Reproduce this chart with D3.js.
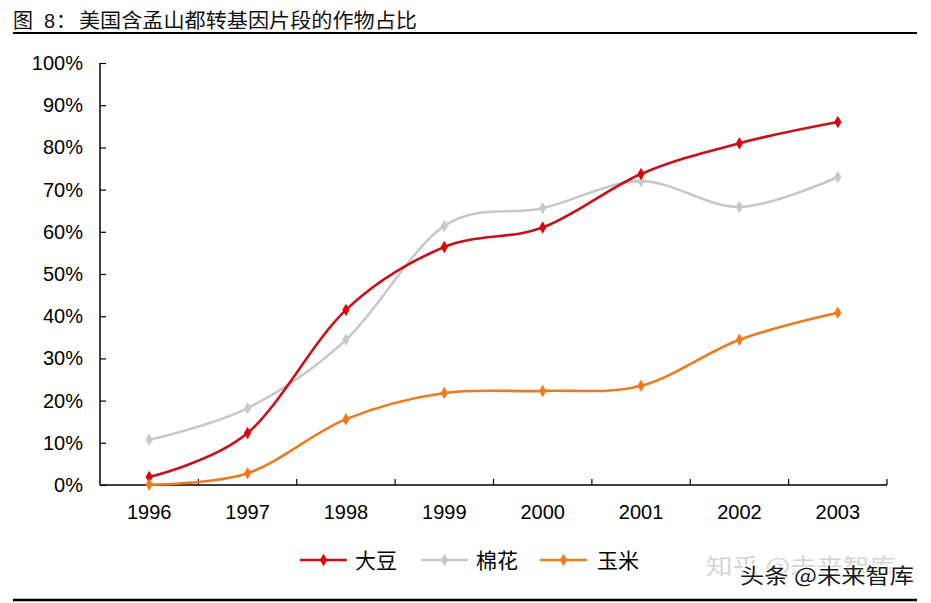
<!DOCTYPE html>
<html><head><meta charset="utf-8">
<script src="https://cdn.jsdelivr.net/npm/d3@7"></script>
<style>body{margin:0;background:#fff}svg{display:block}</style>
</head><body>
<svg id="c" width="931" height="603"></svg>
<script>
const years = ["1996","1997","1998","1999","2000","2001","2002","2003"];
const soybean = [1.9, 12.3, 41.5, 56.4, 61.0, 73.7, 81.0, 86.0];
const cotton  = [10.7, 18.2, 34.4, 61.4, 65.6, 72.0, 65.9, 73.0];
const corn    = [0.1, 2.8, 15.6, 21.8, 22.3, 23.5, 34.4, 40.8];
const seriesNames = ["大豆", "棉花", "玉米"];
const yTicks = [0,10,20,30,40,50,60,70,80,90,100];
const titlePrefix = ["图", "8", "："];
const titleMain = "美国含孟山都转基因片段的作物占比";

const colors = ["#C8101A", "#C8C8C8", "#EF7A1E"];
const markerColors = ["#E00000", "#C8C8C8", "#F27A1A"];
const svg = d3.select("#c");
const cjk = "'Noto Sans CJK SC', sans-serif";
const lat = "'Liberation Sans', Arial, sans-serif";

// title
const tt = svg.append("text").attr("y", 28).attr("font-size", 20).attr("fill", "#111");
tt.append("tspan").attr("x", 13).attr("font-family", cjk).text(titlePrefix[0]);
tt.append("tspan").attr("x", 44).attr("font-family", lat).text(titlePrefix[1]);
tt.append("tspan").attr("x", 56).attr("font-family", cjk).text(titlePrefix[2]);
svg.append("text").attr("x", 79).attr("y", 28).attr("font-size", 20).attr("fill", "#111").attr("font-family", cjk)
  .attr("textLength", 338).attr("lengthAdjust", "spacingAndGlyphs").text(titleMain);
svg.append("line").attr("x1", 13).attr("x2", 917).attr("y1", 33).attr("y2", 33).attr("stroke", "#000").attr("stroke-width", 2);
svg.append("line").attr("x1", 13).attr("x2", 917).attr("y1", 600).attr("y2", 600).attr("stroke", "#000").attr("stroke-width", 2.5);

const x = d3.scaleBand().domain(years).range([100, 887]);
const y = d3.scaleLinear().domain([0, 100]).range([485, 63]);

// y axis
const yAxis = svg.append("g").attr("transform", "translate(100,0)")
  .call(d3.axisRight(y).tickValues(yTicks).tickSize(6).tickFormat(""));
yAxis.select(".domain").attr("d", `M0,${y(100)}V${y(0)}`).attr("stroke", "#000").attr("stroke-width", 1.5);
yAxis.selectAll(".tick line").attr("stroke", "#000").attr("stroke-width", 1.2);
svg.append("g").selectAll("text").data(yTicks).join("text")
  .attr("x", 83).attr("y", d => y(d) + 7).attr("text-anchor", "end")
  .attr("font-family", lat).attr("font-size", 20).attr("fill", "#000")
  .text(d => d + "%");

// x axis
const xAxisG = svg.append("g");
xAxisG.append("line").attr("x1", 100).attr("x2", 887).attr("y1", y(0)).attr("y2", y(0)).attr("stroke", "#000").attr("stroke-width", 1.5);
xAxisG.selectAll("line.t").data(years).join("line").attr("class", "t")
  .attr("x1", (d, i) => x(years[0]) + (i + 1) * x.step()).attr("x2", (d, i) => x(years[0]) + (i + 1) * x.step())
  .attr("y1", y(0)).attr("y2", y(0) - 6).attr("stroke", "#000").attr("stroke-width", 1.2);
xAxisG.selectAll("text").data(years).join("text")
  .attr("x", d => x(d) + x.bandwidth() / 2).attr("y", 519).attr("text-anchor", "middle")
  .attr("font-family", lat).attr("font-size", 20).attr("fill", "#000").text(d => d);

// lines
const data = [soybean, cotton, corn];
const line = d3.line().x((d, i) => x(years[i]) + x.bandwidth() / 2).y(d => y(d)).curve(d3.curveCatmullRom.alpha(0));
const diamond = d3.symbol().type(d3.symbolDiamond).size(45);
[1, 0, 2].forEach(k => {
  const g = svg.append("g");
  g.append("path").attr("d", line(data[k])).attr("fill", "none").attr("stroke", colors[k]).attr("stroke-width", 2.6);
  g.selectAll("path.m").data(data[k]).join("path").attr("class", "m")
    .attr("d", diamond)
    .attr("transform", (d, i) => `translate(${x(years[i]) + x.bandwidth() / 2},${y(d)})`)
    .attr("fill", markerColors[k]);
});

// legend
const legX = [300, 421, 540];
const legText = [355, 476, 597];
seriesNames.forEach((n, k) => {
  svg.append("line").attr("x1", legX[k]).attr("x2", legX[k] + 47).attr("y1", 560).attr("y2", 560).attr("stroke", colors[k]).attr("stroke-width", 2.6);
  svg.append("path").attr("d", diamond).attr("transform", `translate(${legX[k] + 23.5},560)`).attr("fill", markerColors[k]);
  svg.append("text").attr("x", legText[k]).attr("y", 568).attr("font-family", cjk).attr("font-size", 21).attr("fill", "#000").text(n);
});

// watermarks
svg.append("text").attr("x", 706).attr("y", 574).attr("font-family", cjk).attr("font-size", 22).attr("fill", "#d4d4d4")
  .attr("textLength", 190).attr("lengthAdjust", "spacingAndGlyphs").text("知乎 @未来智库");
svg.append("text").attr("x", 740).attr("y", 583).attr("font-family", cjk).attr("font-size", 21)
  .attr("fill", "#1a1a1a").attr("stroke", "#fff").attr("stroke-width", 3).attr("paint-order", "stroke")
  .attr("textLength", 174).attr("lengthAdjust", "spacingAndGlyphs").text("头条 @未来智库");
</script>
</body></html>
